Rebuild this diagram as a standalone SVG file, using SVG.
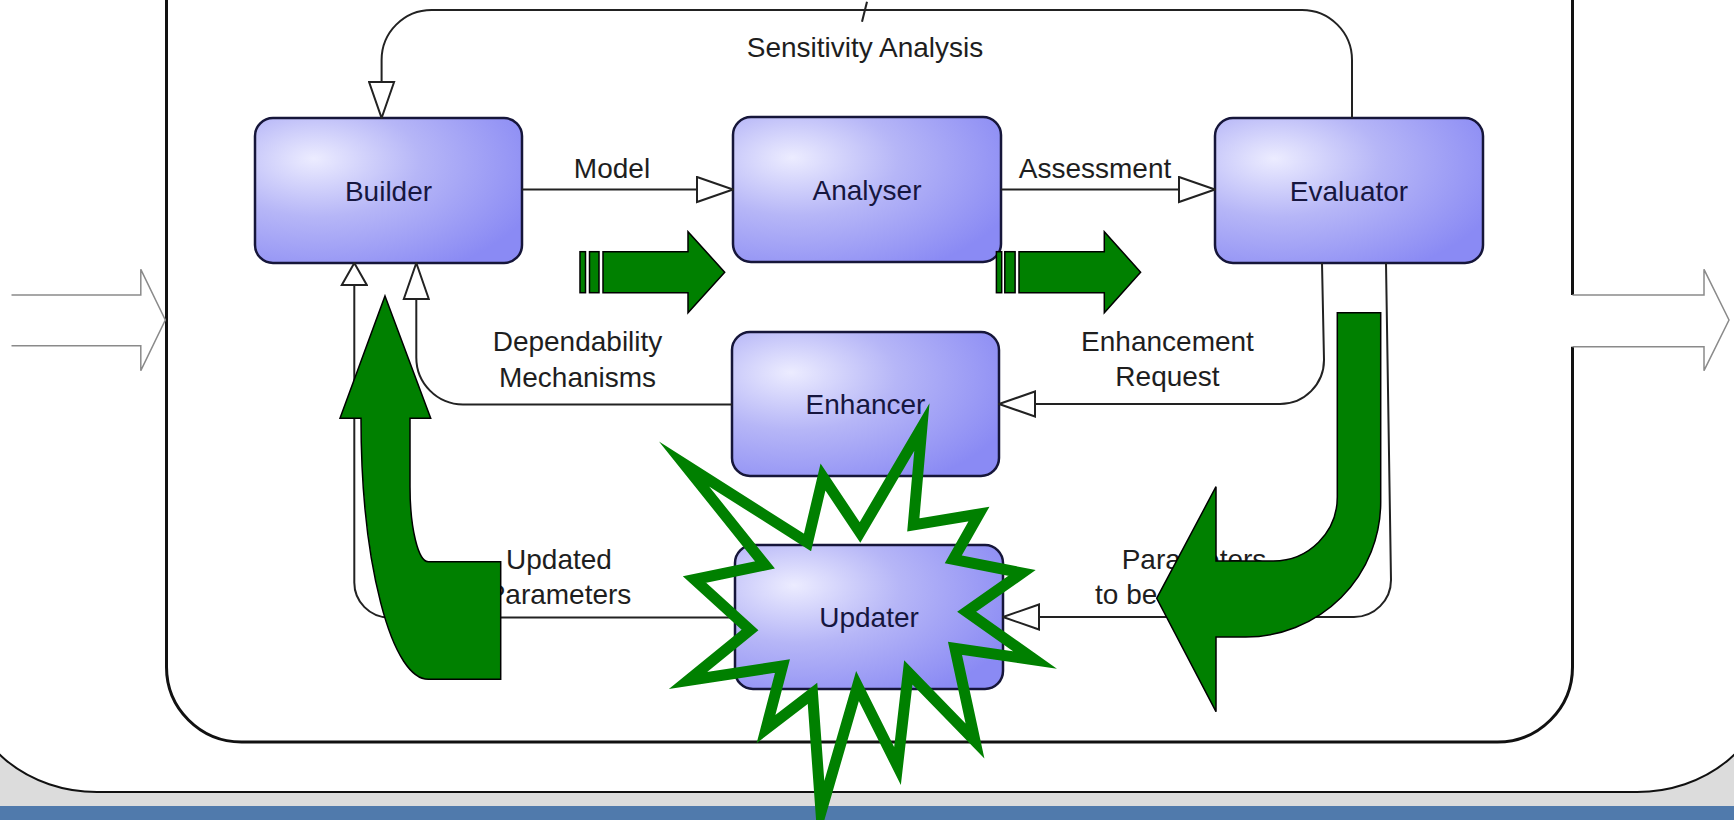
<svg xmlns="http://www.w3.org/2000/svg" width="1734" height="820" viewBox="0 0 1734 820">
<defs>
  <radialGradient id="nodeFill" cx="0.25" cy="0.32" r="0.85" fx="0.22" fy="0.28">
    <stop offset="0" stop-color="#ececff"/>
    <stop offset="0.45" stop-color="#b6b6f7"/>
    <stop offset="1" stop-color="#8a8af4"/>
  </radialGradient>
  <marker id="tri" markerUnits="userSpaceOnUse" viewBox="0 0 38 28" refX="37" refY="14" markerWidth="38" markerHeight="28" orient="auto">
    <path d="M1,1.5 L37,14 L1,26.5 Z" fill="#fff" stroke="#222" stroke-width="2"/>
  </marker>
  <marker id="triShort" markerUnits="userSpaceOnUse" viewBox="0 0 24 28" refX="23" refY="14" markerWidth="24" markerHeight="28" orient="auto">
    <path d="M1,1.5 L23,14 L1,26.5 Z" fill="#fff" stroke="#222" stroke-width="2"/>
  </marker>
</defs>
<style>
  .node rect { fill: url(#nodeFill); stroke: #16163a; stroke-width: 2.5; }
  .ntxt { font-family: "Liberation Sans", Arial, sans-serif; font-size: 28px; fill: #16163f; text-anchor: middle; }
  .lbl { font-family: "Liberation Sans", Arial, sans-serif; font-size: 28px; fill: #1e1e1e; text-anchor: middle; }
  .conn { fill: none; stroke: #222; stroke-width: 2; }
  .green { fill: #008000; stroke: #000; stroke-width: 1.5; stroke-linejoin: miter; }
  .hollow { fill: #fff; stroke: #8a8a8a; stroke-width: 1.5; }
</style>

<!-- background -->
<rect x="0" y="0" width="1734" height="820" fill="#dcdcdc"/>
<path d="M-33,-10 L-33,681 A130,111 0 0 0 97,792 L1637,792 A130,111 0 0 0 1767,681 L1767,-10 Z" fill="#fff" stroke="#111" stroke-width="2"/>
<rect x="0" y="806" width="1734" height="14" fill="#507aac"/>

<!-- inner frame -->
<g id="frame">
  <path d="M166.5,-10 L166.5,667 A75,75 0 0 0 241.5,742 L1497.5,742 A75,75 0 0 0 1572.5,667 L1572.5,346.7 M1572.5,295 L1572.5,-10" fill="none" stroke="#111" stroke-width="3"/>
  <path class="hollow" d="M11.5,295 L140.8,295 L140.8,269.3 L165.3,320 L140.8,370.7 L140.8,345.7 L11.5,345.7"/>
  <path class="hollow" d="M1572.5,295 L1704,295 L1704,269.3 L1729,320 L1704,370.7 L1704,346.7 L1572.5,346.7"/>
</g>

<!-- nodes -->
<g id="builder" class="node">
  <rect x="255" y="118" width="267" height="145" rx="18"/>
  <text class="ntxt" x="388.5" y="200.5">Builder</text>
</g>
<g id="analyser" class="node">
  <rect x="733" y="117" width="268" height="145" rx="18"/>
  <text class="ntxt" x="867" y="199.5">Analyser</text>
</g>
<g id="evaluator" class="node">
  <rect x="1215" y="118" width="268" height="145" rx="18"/>
  <text class="ntxt" x="1349" y="200.5">Evaluator</text>
</g>
<g id="enhancer" class="node">
  <rect x="732" y="332" width="267" height="144" rx="18"/>
  <text class="ntxt" x="865.5" y="414">Enhancer</text>
</g>
<g id="updater" class="node">
  <rect x="735" y="545" width="268" height="144" rx="18"/>
  <text class="ntxt" x="869" y="627">Updater</text>
</g>

<!-- connectors -->
<g id="connectors">
  <path class="conn" d="M1352,118 L1352,60 A50,50 0 0 0 1302,10 L431.6,10 A50,50 0 0 0 381.6,60 L381.6,118" marker-end="url(#tri)"/>
  <line class="conn" x1="867" y1="1.7" x2="862" y2="21.7" stroke-width="1.5"/>
  <path class="conn" d="M522,189.5 L733,189.5" marker-end="url(#tri)"/>
  <path class="conn" d="M1001,189.5 L1215,189.5" marker-end="url(#tri)"/>
  <path class="conn" d="M1322,263 L1324,360 A44,44 0 0 1 1280,404 L999,404" marker-end="url(#tri)"/>
  <path class="conn" d="M732,404.5 L463,404.5 A47,47 0 0 1 416.3,357.5 L416.3,263" marker-end="url(#tri)"/>
  <path class="conn" d="M1386,263 L1391,580 A37,37 0 0 1 1354,617 L1003,617" marker-end="url(#tri)"/>
  <path class="conn" d="M735,617.5 L389,617.5 A35,35 0 0 1 354.3,582.5 L354.3,263" marker-end="url(#triShort)"/>
  <text class="lbl" x="865" y="57">Sensitivity Analysis</text>
  <text class="lbl" x="612" y="178">Model</text>
  <text class="lbl" x="1095" y="178">Assessment</text>
  <text class="lbl" x="577.5" y="351">Dependability</text>
  <text class="lbl" x="577.5" y="386.7">Mechanisms</text>
  <text class="lbl" x="1167.5" y="351">Enhancement</text>
  <text class="lbl" x="1167.5" y="386">Request</text>
  <text class="lbl" x="559" y="568.5">Updated</text>
  <text class="lbl" x="559" y="604">Parameters</text>
  <text class="lbl" x="1194" y="569">Parameters</text>
  <text class="lbl" x="1095" y="603.5" style="text-anchor:start">to be</text>
</g>

<!-- green overlays -->
<g id="flow-arrow-1">
  <rect class="green" x="580" y="251.7" width="5.5" height="41"/>
  <rect class="green" x="589.5" y="251.7" width="9.5" height="41"/>
  <path class="green" d="M603,251.7 L688,251.7 L688,231.7 L724.7,272.2 L688,312.7 L688,292.7 L603,292.7 Z"/>
</g>
<g id="flow-arrow-2">
  <rect class="green" x="996.4" y="251.7" width="5.3" height="41"/>
  <rect class="green" x="1004.8" y="251.7" width="10.3" height="41"/>
  <path class="green" d="M1019,251.7 L1104.3,251.7 L1104.3,231.7 L1140.6,272.2 L1104.3,312.7 L1104.3,292.7 L1019,292.7 Z"/>
</g>
<g id="curved-arrow-left">
  <path class="green" d="M385,296 L430.7,418.3 L410,418.3 L410,486.7 A18.3,75 0 0 0 428.3,561.7 L500.7,561.7 L500.7,679.3 L428.3,679.3 A67.3,261 0 0 1 361,418.3 L340,418.3 Z"/>
</g>
<g id="curved-arrow-right">
  <path class="green" d="M1337.3,312.7 L1380.7,312.7 L1380.7,502 A135,135 0 0 1 1245.7,637 L1216,637 L1216,711.7 L1156.7,598.3 L1216,486.7 L1216,561 L1273.3,561 A64,64 0 0 0 1337.3,497 Z"/>
</g>
<g id="starburst">
  <polygon points="921.9,427 913.3,525 979,514 953.3,559.3 1022,573 966.7,611.7 1035,660 955,648.3 975,741 908.3,672.5 897.5,766 857.5,686 821,812 812.5,693.3 766,729 782.5,666 688,680.5 750,630 694.5,579.5 765,565 684,464 807.5,542.5 823,477 860,532.5" fill="none" stroke="#008000" stroke-width="11" stroke-miterlimit="20" stroke-linejoin="miter"/>
</g>
</svg>
